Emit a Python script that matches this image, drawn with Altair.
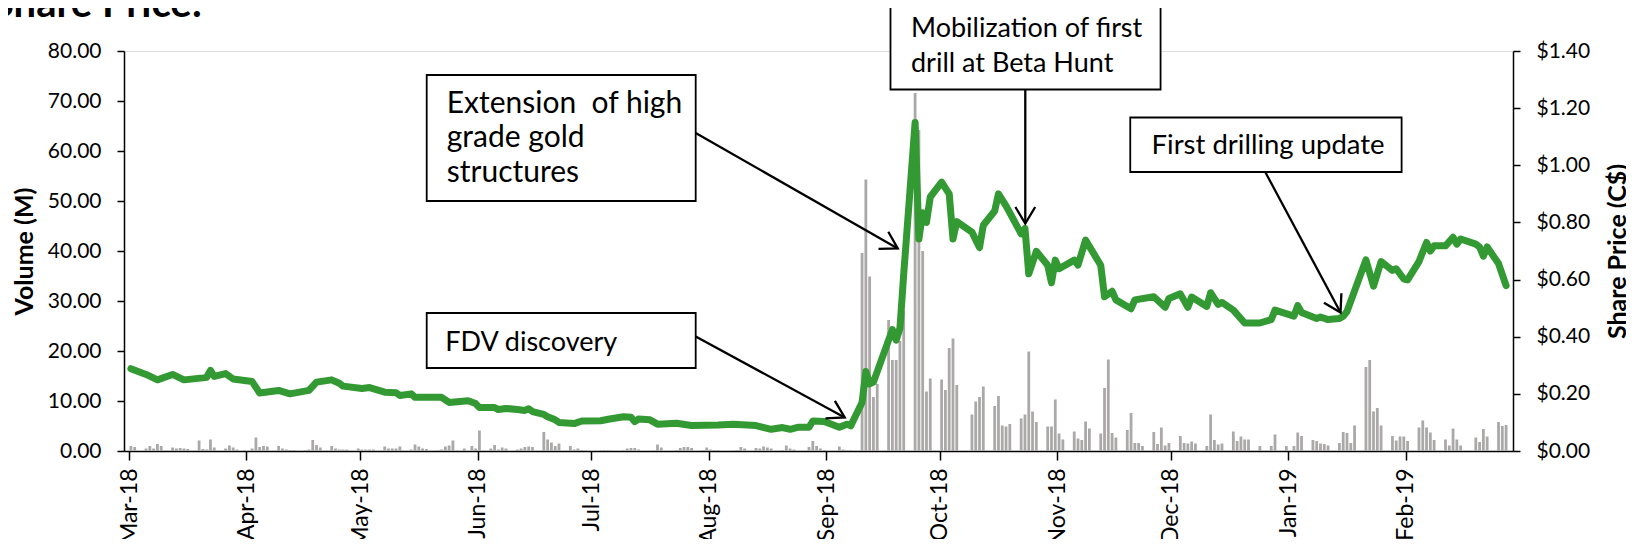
import altair as alt
import pandas as pd

# ---------------- data ----------------
# Daily volume (millions), one row of Mon..Fri per week; None = no bar
WEEK_START = "2018-02-26"
VOLUME_BY_WEEK = [
    [None, None, None, 1.0, 0.8],
    [0.5, 1.0, 0.5, 1.4, 1.0],
    [0.7, 0.5, 0.6, 0.5, 0.4],
    [2.1, 0.4, 0.3, 2.3, 0.7],
    [0.5, 1.1, 0.7, 0.3, None],
    [0.5, 2.7, 0.8, 1.0, 0.9],
    [1.0, 0.5, 0.3, 0.2, 0.2],
    [0.2, 0.3, 2.2, 1.2, 0.7],
    [1.0, 0.5, 0.3, 0.3, 0.3],
    [0.5, 0.3, 0.3, 0.3, 0.3],
    [0.9, 0.5, 0.5, 0.5, 0.9],
    [0.3, 1.3, 0.9, 0.5, 0.4],
    [0.2, 0.3, 0.9, 1.1, 2.1],
    [0.5, None, 1.0, 0.5, 4.1],
    [0.5, 1.2, 0.3, 0.7, 0.5],
    [0.3, 0.5, 0.8, 0.9, 0.8],
    [3.8, 2.3, 1.7, 1.0, 1.5],
    [1.0, 0.3, 0.5, 0.2, 0.1],
    [None, 0.2, 0.2, 0.2, 0.1],
    [0.2, 0.5, 0.6, 0.6, 0.3],
    [None, 0.1, 1.3, 0.7, None],
    [0.2, 0.6, 0.8, 0.8, 0.6],
    [0.2, 0.7, 0.3, 0.2, 0.2],
    [None, 0.1, 0.2, 0.8, 0.5],
    [0.6, 0.5, 0.9, 0.7, 0.5],
    [0.2, 1.1, 0.5, 0.3, None],
    [0.8, 2.0, 1.0, 0.5, 0.2],
    [None, 0.9, 0.3, 0.2, 0.2],
    [39.6, 54.3, 34.9, 10.8, 13.4],
    [26.2, 18.2, 18.2, 22.0, 28.0],
    [71.6, 64.2, 40.0, 11.9, 14.5],
    [14.3, 12.2, 20.6, 22.5, 13.2],
    [None, 7.3, 9.9, 10.8, 12.9],
    [9.0, 11.0, 5.1, 4.9, 5.4],
    [6.5, 7.3, 19.9, 7.9, 5.8],
    [4.9, 4.9, 10.3, 3.5, 2.3],
    [3.9, 2.5, 2.2, 5.9, 4.5],
    [3.5, 12.6, 18.3, 3.6, 2.7],
    [4.2, 7.6, 1.6, 1.6, 1.0],
    [3.8, 1.4, 4.7, 1.1, 1.6],
    [3.0, 1.6, 1.5, 1.9, 1.5],
    [1.0, 7.3, 2.2, 1.3, 1.5],
    [3.9, 2.0, 2.9, 2.3, 2.3],
    [1.0, None, None, 1.0, 3.3],
    [1.0, None, 1.0, 3.7, 3.0],
    [2.2, 2.0, 1.5, 1.4, 1.1],
    [1.6, 3.8, 3.6, 1.6, 5.1],
    [16.8, 18.2, 7.9, 8.6, 5.1],
    [3.0, 2.1, 2.9, 2.9, 2.0],
    [4.7, 6.1, 4.7, 3.7, 2.2],
    [2.3, 1.1, 4.5, 2.3, 1.1],
    [None, 2.7, 1.8, 4.4, 2.9],
    [5.8, 5.0, 5.2, None, None],
]

PRICE_DATES = [
    "2018-03-01", "2018-03-05", "2018-03-08", "2018-03-12", "2018-03-15", "2018-03-20",
    "2018-03-21", "2018-03-22", "2018-03-23", "2018-03-26", "2018-03-28", "2018-04-02",
    "2018-04-04", "2018-04-09", "2018-04-12", "2018-04-17", "2018-04-19", "2018-04-23",
    "2018-04-25", "2018-04-26", "2018-05-01", "2018-05-03", "2018-05-07", "2018-05-10",
    "2018-05-11", "2018-05-14", "2018-05-15", "2018-05-22", "2018-05-24", "2018-05-29",
    "2018-05-31", "2018-06-01", "2018-06-05", "2018-06-06", "2018-06-08", "2018-06-11",
    "2018-06-13", "2018-06-14", "2018-06-15", "2018-06-18", "2018-06-19", "2018-06-21",
    "2018-06-22", "2018-06-26", "2018-06-28", "2018-07-03", "2018-07-05", "2018-07-09",
    "2018-07-11", "2018-07-12", "2018-07-13", "2018-07-16", "2018-07-18", "2018-07-23",
    "2018-07-27", "2018-08-03", "2018-08-07", "2018-08-13", "2018-08-17", "2018-08-20",
    "2018-08-22", "2018-08-24", "2018-08-27", "2018-08-28", "2018-08-31", "2018-09-04",
    "2018-09-06", "2018-09-07", "2018-09-10", "2018-09-11", "2018-09-12", "2018-09-13",
    "2018-09-18", "2018-09-19", "2018-09-20", "2018-09-21", "2018-09-24", "2018-09-25",
    "2018-09-26", "2018-09-27", "2018-09-28", "2018-10-01", "2018-10-02", "2018-10-03",
    "2018-10-04", "2018-10-05", "2018-10-09", "2018-10-11", "2018-10-12", "2018-10-15",
    "2018-10-16", "2018-10-18", "2018-10-22", "2018-10-23", "2018-10-24", "2018-10-26",
    "2018-10-29", "2018-10-30", "2018-10-31", "2018-11-01", "2018-11-05", "2018-11-06",
    "2018-11-08", "2018-11-12", "2018-11-13", "2018-11-15", "2018-11-16", "2018-11-20",
    "2018-11-21", "2018-11-26", "2018-11-29", "2018-11-30", "2018-12-03", "2018-12-05",
    "2018-12-06", "2018-12-10", "2018-12-11", "2018-12-13", "2018-12-14", "2018-12-17",
    "2018-12-20", "2018-12-24", "2018-12-27", "2018-12-28", "2019-01-02", "2019-01-03",
    "2019-01-04", "2019-01-08", "2019-01-09", "2019-01-11", "2019-01-14", "2019-01-15",
    "2019-01-16", "2019-01-21", "2019-01-23", "2019-01-25", "2019-01-28", "2019-01-29",
    "2019-01-31", "2019-02-01", "2019-02-04", "2019-02-06", "2019-02-07", "2019-02-08",
    "2019-02-11", "2019-02-13", "2019-02-14", "2019-02-15", "2019-02-19", "2019-02-20",
    "2019-02-21", "2019-02-22", "2019-02-25", "2019-02-27",
]
PRICE_VALUES = [
    0.288, 0.268, 0.249, 0.268, 0.249, 0.256,
    0.258, 0.282, 0.261, 0.271, 0.252, 0.243,
    0.203, 0.212, 0.200, 0.212, 0.241, 0.249,
    0.237, 0.227, 0.219, 0.222, 0.206, 0.204,
    0.194, 0.200, 0.188, 0.188, 0.170, 0.176,
    0.166, 0.152, 0.152, 0.145, 0.149, 0.145,
    0.142, 0.148, 0.138, 0.128, 0.120, 0.109,
    0.100, 0.096, 0.105, 0.106, 0.111, 0.120,
    0.118, 0.103, 0.112, 0.109, 0.094, 0.097,
    0.089, 0.091, 0.094, 0.089, 0.076, 0.082,
    0.076, 0.083, 0.083, 0.105, 0.103, 0.083,
    0.094, 0.088, 0.170, 0.278, 0.235, 0.241,
    0.425, 0.388, 0.430, 0.620, 1.150, 0.742,
    0.834, 0.800, 0.889, 0.941, 0.920, 0.900,
    0.742, 0.803, 0.766, 0.712, 0.790, 0.840,
    0.900, 0.858, 0.760, 0.779, 0.620, 0.699,
    0.650, 0.589, 0.668, 0.638, 0.668, 0.651,
    0.738, 0.650, 0.540, 0.559, 0.529, 0.498,
    0.529, 0.540, 0.503, 0.534, 0.550, 0.503,
    0.539, 0.506, 0.554, 0.513, 0.520, 0.493,
    0.448, 0.448, 0.460, 0.493, 0.472, 0.509,
    0.485, 0.464, 0.469, 0.460, 0.464, 0.472,
    0.488, 0.669, 0.577, 0.663, 0.632, 0.638,
    0.602, 0.599, 0.663, 0.730, 0.700, 0.718,
    0.718, 0.748, 0.724, 0.742, 0.724, 0.714,
    0.682, 0.714, 0.656, 0.579,
]

X_DOMAIN = ["2018-03-01", "2019-02-28"]
MONTH_TICKS = ["2018-03-01", "2018-04-01", "2018-05-01", "2018-06-01", "2018-07-01",
               "2018-08-01", "2018-09-01", "2018-10-01", "2018-11-01", "2018-12-01",
               "2019-01-01", "2019-02-01"]
VOL_TICKS = [0, 10, 20, 30, 40, 50, 60, 70, 80]
PRICE_TICKS = [0.0, 0.2, 0.4, 0.6, 0.8, 1.0, 1.2, 1.4]

# Annotation boxes (date span, volume-axis span)
BOX_T1 = ["2018-05-18T14:00", "2018-05-18T14:00", "2018-09-18T00:00", "2018-11-20T07:00"]
BOX_T2 = ["2018-07-28T14:00", "2018-07-28T14:00", "2018-11-28T07:00", "2019-01-30T22:00"]
BOX_V_TOP = [75.2, 27.6, 90.0, 66.7]
BOX_V_BOTTOM = [50.0, 16.6, 72.3, 55.8]

TEXT_LINES = ["Extension\u00a0 of high", "grade gold", "structures", "FDV discovery",
              "Mobilization of first", "drill at Beta Hunt", "First drilling update"]
TEXT_T = ["2018-05-23T21:00", "2018-05-23T21:00", "2018-05-23T21:00", "2018-05-23T12:00",
          "2018-09-23T10:00", "2018-09-23T10:00", "2018-11-25T22:00"]
TEXT_V = [67.7, 60.9, 53.8, 20.1, 82.9, 75.9, 59.5]
TEXT_SIZE = [30, 30, 30, 27, 27, 27, 27.5]

ARROW_T1 = ["2018-07-28T14:00", "2018-07-28T14:00", "2018-10-23T14:00", "2018-12-25T22:00"]
ARROW_V1 = [63.6, 22.9, 72.3, 55.8]
ARROW_T2 = ["2018-09-19T22:00", "2018-09-05T22:00", "2018-10-23T14:00", "2019-01-14T19:00"]
ARROW_V2 = [40.5, 6.7, 45.5, 27.7]
ARROW_ANGLE = [29.6, 28.3, 90.0, 61.6]

TITLE = "Share Price:"

# ---------------- helpers ----------------
HALF_DAY_MS = 12 * 3600 * 1000


def to_ms(s):
    return int(pd.Timestamp(s, tz="UTC").value // 10**6)


vol_rows = []
start = pd.Timestamp(WEEK_START, tz="UTC")
for i, week in enumerate(VOLUME_BY_WEEK):
    for j, v in enumerate(week):
        if v is not None:
            d = start + pd.Timedelta(days=7 * i + j)
            vol_rows.append({"t": int(d.value // 10**6) + HALF_DAY_MS, "vol": v})
vol_df = pd.DataFrame(vol_rows)

price_df = pd.DataFrame({
    "t": [to_ms(d) + HALF_DAY_MS for d in PRICE_DATES],
    "price": PRICE_VALUES,
})

box_df = pd.DataFrame({
    "ta": [to_ms(s) for s in BOX_T1], "tb": [to_ms(s) for s in BOX_T2],
    "va": BOX_V_TOP, "vb": BOX_V_BOTTOM,
})
text_df = pd.DataFrame({"t": [to_ms(s) for s in TEXT_T], "v": TEXT_V,
                        "label": TEXT_LINES, "fs": TEXT_SIZE})
arrow_df = pd.DataFrame({
    "t1": [to_ms(s) for s in ARROW_T1], "v1": ARROW_V1,
    "t2": [to_ms(s) for s in ARROW_T2], "v2": ARROW_V2,
    "ang": ARROW_ANGLE,
})
title_df = pd.DataFrame({"label": [TITLE]})

FONT = "Lato"
XSCALE = alt.Scale(type="utc", domain=[to_ms(X_DOMAIN[0]), to_ms(X_DOMAIN[1])], nice=False)
XAXIS = alt.Axis(
    values=[to_ms(m) for m in MONTH_TICKS],
    labelExpr="utcFormat(datum.value, '%b-%y')",
    labelAngle=270, labelFont=FONT, labelFontSize=23, labelColor="black",
    labelPadding=8, labelOverlap=False, labelFlush=False,
    tickSize=9, tickWidth=1.5, tickColor="black",
    domainColor="black", domainWidth=1.5, grid=False, title=None,
)


def X(field):
    return alt.X(f"{field}:T", scale=XSCALE, axis=XAXIS, title=None)


def YA(field):
    return alt.Y(f"{field}:Q", scale=alt.Scale(domain=[0, 80], nice=False), axis=None)


LEFT_AXIS = alt.Axis(
    orient="left", values=VOL_TICKS, format=".2f", title="Volume (M)",
    titleFont=FONT, titleFontSize=25, titleFontWeight="bold", titleColor="black",
    titleAngle=270, titleX=-100, titleY=200, titleAlign="center", titleBaseline="middle",
    labelFont=FONT, labelFontSize=21, labelColor="black", labelPadding=16,
    tickSize=7, tickWidth=1.5, tickColor="black", domainColor="black", domainWidth=1.5,
    grid=False,
)
RIGHT_AXIS = alt.Axis(
    orient="right", values=PRICE_TICKS, format="$.2f", title="Share Price (C$)",
    titleFont=FONT, titleFontSize=25, titleFontWeight="bold", titleColor="black",
    titleAngle=270, titleX=104, titleY=200, titleAlign="center", titleBaseline="middle",
    labelFont=FONT, labelFontSize=21, labelColor="black", labelPadding=16,
    tickSize=7, tickWidth=1.5, tickColor="black", domainColor="black", domainWidth=1.5,
    grid=False,
)

bars = alt.Chart(vol_df).mark_bar(size=2.8, color="#ABA8A8").encode(
    x=X("t"),
    y=alt.Y("vol:Q", scale=alt.Scale(domain=[0, 80], nice=False), axis=LEFT_AXIS),
)

line = alt.Chart(price_df).mark_line(
    color="#339933", strokeWidth=7, strokeJoin="round", strokeCap="round"
).encode(
    x=X("t"),
    y=alt.Y("price:Q", scale=alt.Scale(domain=[0, 1.4], nice=False), axis=RIGHT_AXIS),
)

boxes = alt.Chart(box_df).mark_rect(fill="white", stroke="black", strokeWidth=1.8).encode(
    x=X("ta"), x2="tb", y=YA("va"), y2="vb",
)

texts = alt.Chart(text_df).mark_text(
    align="left", baseline="alphabetic", font=FONT, color="black"
).encode(x=X("t"), y=YA("v"), text="label:N",
         size=alt.Size("fs:Q", scale=None, legend=None))

shafts = alt.Chart(arrow_df).mark_rule(color="black", strokeWidth=2.3).encode(
    x=X("t1"), x2="t2", y=YA("v1"), y2="v2",
)

heads = alt.Chart(arrow_df).mark_point(
    shape="M -1 -0.6 L 0 0 L -1 0.6", filled=False, size=1089,
    color="black", strokeWidth=2.3, opacity=1,
).encode(x=X("t2"), y=YA("v2"), angle=alt.Angle("ang:Q", scale=None))

title = alt.Chart(title_df).mark_text(
    align="right", baseline="alphabetic", font=FONT, fontSize=40,
    fontWeight="bold", color="black",
).encode(x=alt.value(78), y=alt.value(-34), text="label:N")

chart = alt.layer(bars, line, boxes, texts, shafts, heads, title).resolve_scale(
    y="independent"
).properties(
    width=1389, height=400,
    autosize=alt.AutoSizeParams(type="none"),
    padding={"left": 116, "top": 43, "right": 113, "bottom": 88},
).configure_view(stroke=None).configure(background="white")

chart.save("out.html", embed_options={"renderer": "svg", "actions": False})
